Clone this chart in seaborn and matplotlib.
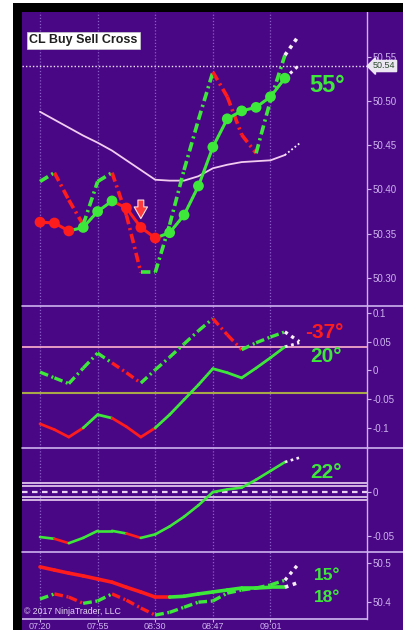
import matplotlib.pyplot as plt
from matplotlib.patches import Rectangle
from matplotlib.lines import Line2D
import seaborn as sns

# bar index and time labels
bars = list(range(19))
time_ticks = [0, 4, 8, 12, 16]
time_labels = ["07:20", "07:55", "08:30", "08:47", "09:01"]

# panel 1 - price cross
fast_line = [50.363, 50.362, 50.353, 50.357, 50.375, 50.387, 50.379, 50.357, 50.345, 50.351,
             50.371, 50.404, 50.448, 50.480, 50.489, 50.493, 50.505, 50.526, 50.541]
fast_colors = "RRGGGRRRGGGGGGGGGW"
dot_colors = list("RRRGGGRRRGGGGGGGGG")
slow_line = [50.409, 50.419, 50.388, 50.360, 50.409, 50.419, 50.371, 50.306, 50.306, 50.360,
             50.422, 50.479, 50.533, 50.505, 50.462, 50.441, 50.501, 50.552, 50.575]
slow_colors = "GRRGGRRGGGGGRRRGGW"
avg_line = [50.488, 50.479, 50.470, 50.461, 50.453, 50.444, 50.433, 50.422, 50.411, 50.410,
            50.410, 50.415, 50.424, 50.428, 50.431, 50.432, 50.433, 50.439, 50.452]

# panel 2 - oscillator
osc_upper = [-0.003, -0.013, -0.023, 0.004, 0.030, 0.013, -0.004, -0.022, 0.001, 0.023,
             0.046, 0.069, 0.090, 0.062, 0.036, 0.048, 0.058, 0.067, 0.050]
osc_upper_colors = "GGGGGRRGGGGGRRGGGW"
osc_lower = [-0.093, -0.103, -0.116, -0.100, -0.077, -0.083, -0.098, -0.116, -0.100, -0.077,
             -0.051, -0.025, 0.003, -0.004, -0.013, 0.004, 0.022, 0.041, 0.048]
osc_lower_colors = "RRRGGRRRGGGGGGGGGW"

# panel 3 - slope
slope = [-0.051, -0.053, -0.058, -0.052, -0.044, -0.044, -0.047, -0.052, -0.048, -0.039,
         -0.028, -0.015, 0.000, 0.003, 0.005, 0.014, 0.024, 0.034, 0.039]
slope_colors = "GRGGGGRGGGGGGGGGGW"

# panel 4 - long averages
long_a = [50.490, 50.482, 50.474, 50.467, 50.459, 50.451, 50.438, 50.426, 50.413, 50.413,
          50.415, 50.421, 50.426, 50.431, 50.436, 50.436, 50.438, 50.438, 50.451]
long_a_colors = "RRRRRRRRRGGGGGGGGW"
long_b = [50.408, 50.421, 50.413, 50.397, 50.403, 50.421, 50.405, 50.385, 50.367, 50.374,
          50.387, 50.400, 50.403, 50.423, 50.431, 50.436, 50.444, 50.456, 50.500]
long_b_colors = "GRRGGRRRGGGGGGGGGW"

COL = {"G": "#3ee83a", "R": "#ff1c1c", "W": "#f6eef8"}
BG = "#4a0785"
LAV = "#cdb2ee"
GRID = "#8a5cc8"
W, H = 403, 630

sns.set_theme(style="dark", rc={"axes.facecolor": BG, "figure.facecolor": BG})
plt.rcParams["font.family"] = ["Liberation Sans", "DejaVu Sans"]


def seg_line(ax, y, colors, ls="-", lw=2.2, z=3):
    for i, c in enumerate(colors):
        sns.lineplot(x=bars[i:i + 2], y=y[i:i + 2], color=COL[c], lw=lw,
                     linestyle=(0, (1, 1.3)) if c == "W" else ls,
                     sort=False, estimator=None, ax=ax, zorder=z)


def px_axes(top, bottom):
    return [22 / W, 1 - bottom / H, (367 - 22) / W, (bottom - top) / H]


fig = plt.figure(figsize=(W / 100, H / 100), dpi=100)
ax1 = fig.add_axes(px_axes(12, 306))
ax2 = fig.add_axes(px_axes(306, 448))
ax3 = fig.add_axes(px_axes(448, 552))
ax4 = fig.add_axes(px_axes(552, 619))

dashdot = (0, (2.6, 1.1, 0.6, 1.1))

# panel 1
sns.lineplot(x=bars[:18], y=avg_line[:18], color="#f2cdf0", lw=1.3, sort=False, estimator=None, ax=ax1)
sns.lineplot(x=bars[17:], y=avg_line[17:], color=COL["W"], lw=1.3, linestyle=(0, (1, 1.3)),
             sort=False, estimator=None, ax=ax1)
seg_line(ax1, slow_line, slow_colors, ls=dashdot, lw=2.6)
seg_line(ax1, fast_line, fast_colors, lw=2.2, z=4)
sns.scatterplot(x=bars[:18], y=fast_line[:18], hue=dot_colors, palette=COL, s=60,
                linewidth=0, legend=False, ax=ax1, zorder=5)
ax1.axhline(50.54, color="#f0e6f8", lw=1, ls=(0, (1, 1.5)), zorder=2)
ax1.annotate("", xy=(7, 50.367), xytext=(7, 50.388),
             arrowprops=dict(arrowstyle="simple,head_width=0.8,head_length=0.7,tail_width=0.35",
                             fc="#ff3a3a", ec="#ffe0e0", lw=0.8, shrinkA=0, shrinkB=0))
ax1.set_ylim(50.268, 50.601)
ax1.set_yticks([50.30, 50.35, 50.40, 50.45, 50.50, 50.55])
ax1.set_yticklabels(["50.30", "50.35", "50.40", "50.45", "50.50", "50.55"])

# panel 2
ax2.axhline(0.04, color="#f2a6c8", lw=1.3, zorder=2)
ax2.axhline(-0.04, color="#a8a848", lw=1.5, zorder=2)
seg_line(ax2, osc_upper, osc_upper_colors, ls=dashdot, lw=2.4)
seg_line(ax2, osc_lower, osc_lower_colors, lw=2.0)
ax2.set_ylim(-0.135, 0.112)
ax2.set_yticks([-0.1, -0.05, 0, 0.05, 0.1])
ax2.set_yticklabels(["-0.1", "-0.05", "0", "0.05", "0.1"])

# panel 3
for lvl in [0.0105, 0.0065, -0.0055, -0.0095]:
    ax3.axhline(lvl, color="#ead2f4", lw=1.2, zorder=2)
ax3.axhline(0, color="#ead2f4", lw=1.6, ls=(0, (2.5, 2)), zorder=2)
seg_line(ax3, slope, slope_colors, lw=1.9)
ax3.set_ylim(-0.068, 0.050)
ax3.set_yticks([-0.05, 0])
ax3.set_yticklabels(["-0.05", "0"])

# panel 4
seg_line(ax4, long_a, long_a_colors, lw=2.6)
seg_line(ax4, long_b, long_b_colors, ls=dashdot, lw=2.4)
ax4.set_ylim(50.357, 50.528)
ax4.set_yticks([50.4, 50.5])
ax4.set_yticklabels(["50.4", "50.5"])

for ax in [ax1, ax2, ax3, ax4]:
    ax.set_xlim(-1.25, 22.7)
    ax.set_xticks(time_ticks)
    ax.grid(axis="x", color=GRID, ls=(0, (1, 1.5)), lw=0.9)
    ax.grid(axis="y", visible=False)
    ax.yaxis.tick_right()
    ax.tick_params(axis="y", colors=LAV, labelsize=7, length=3, width=0.8, pad=1,
                   direction="out", right=True)
    ax.set_xlabel("")
    ax.set_ylabel("")
    for s in ["top", "left", "bottom"]:
        ax.spines[s].set_visible(False)
    ax.spines["right"].set_color(LAV)
    ax.spines["right"].set_linewidth(1)

for ax in [ax1, ax2, ax3]:
    ax.tick_params(axis="x", labelbottom=False, length=0)
ax4.set_xticklabels(time_labels)
ax4.spines["bottom"].set_visible(True)
ax4.spines["bottom"].set_color(LAV)
ax4.tick_params(axis="x", colors=LAV, labelsize=6.5, length=2, width=0.8, pad=0.5, bottom=True)

# panel separators across the full width
for yp in [306, 448, 552]:
    fig.add_artist(Line2D([22 / W, 1], [1 - yp / H] * 2, color=LAV, lw=1.2, transform=fig.transFigure))

# window frame
fig.add_artist(Rectangle((0, 0), 13 / W, 1, fc="white", ec="none", transform=fig.transFigure))
fig.add_artist(Rectangle((0, 1 - 3 / H), 1, 3 / H, fc="white", ec="none", transform=fig.transFigure))
fig.add_artist(Rectangle((13 / W, 0), 9 / W, 1 - 3 / H, fc="black", ec="none", transform=fig.transFigure))
fig.add_artist(Rectangle((13 / W, 1 - 12 / H), 1, 9 / H, fc="black", ec="none", transform=fig.transFigure))


def fig_text(xp, yp, s, **kw):
    fig.text(xp / W, 1 - yp / H, s, transform=fig.transFigure, **kw)


fig_text(29, 40, "CL Buy Sell Cross", fontsize=9, fontweight="bold", color="#202020", va="center",
         bbox=dict(boxstyle="square,pad=0.2", fc="white", ec="#cccccc", lw=0.5))
fig_text(373, 66, "50.54", fontsize=6.5, color="#2c4a2c", va="center",
         bbox=dict(boxstyle="larrow,pad=0.12", fc="#ece6f2", ec="#ece6f2"))
fig_text(309, 85, "55°", fontsize=17, fontweight="bold", color=COL["G"], va="center")
fig_text(305, 332, "-37°", fontsize=15, fontweight="bold", color=COL["R"], va="center")
fig_text(310, 357, "20°", fontsize=15, fontweight="bold", color=COL["G"], va="center")
fig_text(310, 473, "22°", fontsize=15, fontweight="bold", color=COL["G"], va="center")
fig_text(314, 576, "15°", fontsize=12.5, fontweight="bold", color=COL["G"], va="center")
fig_text(314, 597, "18°", fontsize=12.5, fontweight="bold", color=COL["G"], va="center")
fig_text(24, 612, "© 2017 NinjaTrader, LLC", fontsize=6.3, color="#e4d4f4", va="center")

fig.savefig("out.png", dpi=100)
